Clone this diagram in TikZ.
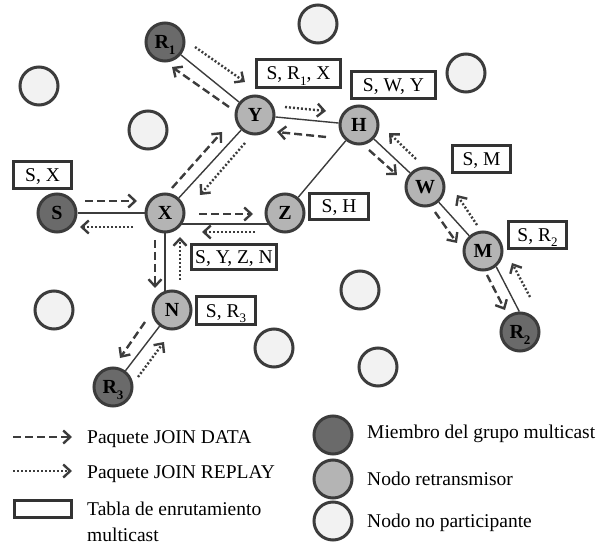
\documentclass[tikz,border=0pt]{standalone}
\usepackage{fontspec}
\setmainfont{Liberation Serif}
\usetikzlibrary{arrows.meta,backgrounds}

\definecolor{cEdge}{HTML}{3C3C3C}
\definecolor{cMember}{HTML}{6A6A6A}
\definecolor{cRelay}{HTML}{B4B4B4}
\definecolor{cIdle}{HTML}{F2F2F2}
\definecolor{cBox}{HTML}{333333}

\newcommand\txtsize{\fontsize{19.5pt}{23pt}\selectfont}
\newcommand\lblsize{\fontsize{20pt}{23pt}\selectfont\bfseries}
\newcommand\idx[1]{\raisebox{-0.28em}{\fontsize{13pt}{13pt}\selectfont #1}}

\tikzset{
  station/.style={circle, draw=cEdge, line width=3pt, minimum size=38pt,
    inner sep=0pt, font=\lblsize, text height=13pt, text depth=0pt},
  member/.style={station, fill=cMember},
  relay/.style={station, fill=cRelay},
  idle/.style={station, fill=cIdle},
  rtable/.style={draw=cBox, line width=3pt, inner sep=0pt, font=\txtsize,
    text height=13pt, text depth=0pt},
  link/.style={draw=cEdge, line width=1.4pt},
  tipshape/.style={-{Straight Barb[length=7pt,width=13pt]}},
  data/.style={draw=cEdge, line width=2.4pt, dash pattern=on 8pt off 4pt, tipshape},
  reply/.style={draw=cEdge, line width=2.4pt, dash pattern=on 2pt off 2pt, tipshape},
  legtext/.style={anchor=base west, font=\txtsize, inner sep=0pt},
}

\begin{document}
\begin{tikzpicture}[x=1pt, y=-1pt]
\useasboundingbox (0,0) rectangle (600,548);

% network stations
\node[member] (R1) at (165,42)  {R\idx{1}};
\node[relay]  (Y)  at (255,115) {Y};
\node[relay]  (H)  at (359,125) {H};
\node[relay]  (W)  at (425,187) {W};
\node[relay]  (M)  at (483,251) {M};
\node[member] (R2) at (520,332) {R\idx{2}};
\node[member] (S)  at (57,213)  {S};
\node[relay]  (X)  at (165,213) {X};
\node[relay]  (Z)  at (285,213) {Z};
\node[relay]  (N)  at (172,310) {N};
\node[member] (R3) at (113,387) {R\idx{3}};

% stations outside the tree
\node[idle] (i1) at (318,24)  {};
\node[idle] (i2) at (466,73)  {};
\node[idle] (i3) at (39,86)   {};
\node[idle] (i4) at (148,130) {};
\node[idle] (i5) at (54,310)  {};
\node[idle] (i6) at (274,348) {};
\node[idle] (i7) at (360,290) {};
\node[idle] (i8) at (378,367) {};

% multicast routing tables
\node[rtable, minimum width=84pt, minimum height=28pt] (tY) at (298.5,73.5) {S, R\idx{1}, X};
\node[rtable, minimum width=84pt, minimum height=27pt] (tH) at (393.5,85)   {S, W, Y};
\node[rtable, minimum width=58pt, minimum height=27pt] (tW) at (481.5,159)  {S, M};
\node[rtable, minimum width=58pt, minimum height=27pt] (tS) at (42.5,175)   {S, X};
\node[rtable, minimum width=59pt, minimum height=26pt] (tZ) at (339,206.5)  {S, H};
\node[rtable, minimum width=85pt, minimum height=25pt] (tX) at (234,257)    {S, Y, Z, N};
\node[rtable, minimum width=59pt, minimum height=28pt] (tN) at (226,310.5)  {S, R\idx{3}};
\node[rtable, minimum width=58pt, minimum height=27pt] (tM) at (537.5,235)  {S, R\idx{2}};

% radio links
\begin{pgfonlayer}{background}
  \draw[link] (R1) -- (Y);
  \draw[link] (Y) -- (H);
  \draw[link] (Y) -- (X);
  \draw[link] (H) -- (Z);
  \draw[link] (H) -- (W);
  \draw[link] (W) -- (M);
  \draw[link] (M.-50) -- (R2.92);
  \draw[link] (S) -- (X);
  \draw[link] ([yshift=-11pt]X.center) -- ([yshift=-11pt]Z.center);
  \draw[link] (X.center) -- (X.center |- N.center);
  \draw[link] (N) -- (R3);
\end{pgfonlayer}

% JOIN DATA packets
\coordinate (d1a) at (85,201);  \coordinate (d1b) at (137,201);
\coordinate (d2a) at (199,214); \coordinate (d2b) at (253,214);
\coordinate (d3a) at (155,240); \coordinate (d3b) at (155,288);
\coordinate (d4a) at (145,322); \coordinate (d4b) at (120,358);
\coordinate (d5a) at (172,188); \coordinate (d5b) at (222,132);
\coordinate (d6a) at (229,107); \coordinate (d6b) at (172,67);
\coordinate (d7a) at (326,137); \coordinate (d7b) at (277,132);
\coordinate (d8a) at (369,150); \coordinate (d8b) at (397,175);
\coordinate (d9a) at (435,212); \coordinate (d9b) at (457,243);
\coordinate (d10a) at (487,275); \coordinate (d10b) at (505,310);
\foreach \k in {1,...,10} \draw[data] (d\k a) -- (d\k b);

% JOIN REPLAY packets
\coordinate (r1a) at (133,227); \coordinate (r1b) at (80,227);
\coordinate (r2a) at (255,232); \coordinate (r2b) at (202,232);
\coordinate (r3a) at (180,280); \coordinate (r3b) at (180,237);
\coordinate (r4a) at (138,377); \coordinate (r4b) at (164,342);
\coordinate (r5a) at (245,143); \coordinate (r5b) at (200,195);
\coordinate (r6a) at (195,47);  \coordinate (r6b) at (245,82);
\coordinate (r7a) at (285,107); \coordinate (r7b) at (326,111);
\coordinate (r8a) at (416,159); \coordinate (r8b) at (389,133);
\coordinate (r9a) at (477,225); \coordinate (r9b) at (457,195);
\coordinate (r10a) at (530,297); \coordinate (r10b) at (512,263);
\foreach \k in {1,...,10} \draw[reply] (r\k a) -- (r\k b);

% legend
\coordinate (ld1) at (13,437); \coordinate (ld2) at (72,437);
\coordinate (lr1) at (13,471); \coordinate (lr2) at (72,471);
\draw[data] (ld1) -- (ld2);
\draw[reply] (lr1) -- (lr2);
\node[rtable, minimum width=57pt, minimum height=17pt] (lt) at (43,509) {};
\node[legtext] (ldt) at (87,443.3) {Paquete JOIN DATA};
\node[legtext] (lrt) at (87,478) {Paquete JOIN REPLAY};
\node[legtext] (ltt1) at (87,515) {Tabla de enrutamiento};
\node[legtext] (ltt2) at (87,541.5) {multicast};

\node[member] (lm) at (333,435) {};
\node[relay]  (lr) at (333,479) {};
\node[idle]   (li) at (333,521) {};
\node[legtext] (lmt) at (367,438) {Miembro del grupo multicast};
\node[legtext] (lrt2) at (367,485) {Nodo retransmisor};
\node[legtext] (lit) at (367,527) {Nodo no participante};
\end{tikzpicture}
\end{document}
